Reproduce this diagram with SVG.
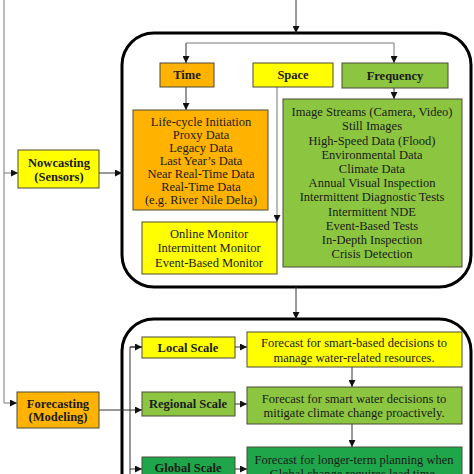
<svg xmlns="http://www.w3.org/2000/svg" width="474" height="474" viewBox="0 0 474 474">
<style>
text{font-family:"Liberation Serif","Times New Roman",serif;font-size:12.5px;fill:#1a1a1a;text-anchor:middle}
.b{font-weight:bold}
.n{stroke:#4a4a3a;stroke-width:1}
.or{fill:#FFB300}
.ye{fill:#FFFF00}
.lg{fill:#8CC640}
.dg{fill:#1FA64A}
.c{fill:none;stroke:#333;stroke-width:1}
.g{fill:none;stroke:#777;stroke-width:1}
.big{fill:none;stroke:#000;stroke-width:3}
</style>
<defs>
<marker id="a" viewBox="0 0 10 10" refX="10" refY="5" markerWidth="7" markerHeight="7" markerUnits="userSpaceOnUse" orient="auto"><path d="M0,0L10,5L0,10z" fill="#111"/></marker>
</defs>
<rect width="474" height="474" fill="#fff"/>
<g id="container1"><rect class="big" x="122" y="33" width="349" height="254" rx="32"/></g>
<g id="container2"><rect class="big" x="122" y="319" width="349" height="220" rx="32"/></g>
<g id="connectors">
<path class="c" d="M296,0V33" marker-end="url(#a)"/>
<path class="g" d="M4,0V403H17" marker-end="url(#a)"/>
<path class="g" d="M4,173H18" marker-end="url(#a)"/>
<path class="c" d="M99,173H122" marker-end="url(#a)"/>
<path class="g" d="M186,63V43H394V63" marker-end="url(#a)"/>
<path class="g" d="M186,43V63" marker-end="url(#a)"/>
<path class="c" d="M186,87V110" marker-end="url(#a)"/>
<path class="c" d="M394,88V99" marker-end="url(#a)"/>
<path class="g" d="M277,87V222" marker-end="url(#a)"/>
<path class="c" d="M296,287V319" marker-end="url(#a)"/>
<path class="c" d="M99,410H142" marker-end="url(#a)"/>
<path class="c" d="M142,347H130V480" />
<path class="c" d="M130,347H142" marker-end="url(#a)"/>
<path class="c" d="M130,469H142" marker-end="url(#a)"/>
<path class="c" d="M235,347H247" marker-end="url(#a)"/>
<path class="c" d="M235,404H247" marker-end="url(#a)"/>
<path class="c" d="M235,469H247" marker-end="url(#a)"/>
<path class="c" d="M352,367V387" marker-end="url(#a)"/>
<path class="c" d="M352,424V447" marker-end="url(#a)"/>
</g>
<g id="nowcasting"><rect class="n ye" x="18" y="150" width="81" height="38"/><text class="b" x="59" y="167">Nowcasting</text><text class="b" x="59" y="181">(Sensors)</text></g>
<g id="forecasting"><rect class="n or" x="17" y="392" width="82" height="36"/><text class="b" x="58" y="408">Forecasting</text><text class="b" x="58" y="421">(Modeling)</text></g>
<g id="time"><rect class="n or" x="160" y="63" width="54" height="24"/><text class="b" x="187" y="79">Time</text></g>
<g id="space"><rect class="n ye" x="253" y="63" width="80" height="24"/><text class="b" x="293" y="79">Space</text></g>
<g id="frequency"><rect class="n lg" x="342" y="63" width="106" height="25"/><text class="b" x="395" y="80">Frequency</text></g>
<g id="timedata"><rect class="n or" x="133" y="110" width="135" height="100"/>
<text x="201" y="126">Life-cycle Initiation</text><text x="201" y="139">Proxy Data</text><text x="201" y="152">Legacy Data</text><text x="201" y="165">Last Year’s Data</text><text x="201" y="178">Near Real-Time Data</text><text x="201" y="191">Real-Time Data</text><text x="201" y="204">(e.g. River Nile Delta)</text></g>
<g id="monitor"><rect class="n ye" x="142" y="222" width="135" height="52"/>
<text x="209" y="238">Online Monitor</text><text x="209" y="252">Intermittent Monitor</text><text x="209" y="267">Event-Based Monitor</text></g>
<g id="freqdata"><rect class="n lg" x="283" y="99" width="179" height="168"/>
<text x="372" y="116">Image Streams (Camera, Video)</text><text x="372" y="130">Still Images</text><text x="372" y="145">High-Speed Data (Flood)</text><text x="372" y="159">Environmental Data</text><text x="372" y="173">Climate Data</text><text x="372" y="187">Annual Visual Inspection</text><text x="372" y="201">Intermittent Diagnostic Tests</text><text x="372" y="216">Intermittent NDE</text><text x="372" y="230">Event-Based Tests</text><text x="372" y="244">In-Depth Inspection</text><text x="372" y="258">Crisis Detection</text></g>
<g id="local"><rect class="n ye" x="142" y="337" width="93" height="21"/><text class="b" x="188" y="352">Local Scale</text></g>
<g id="regional"><rect class="n lg" x="142" y="392" width="93" height="24"/><text class="b" x="188" y="408">Regional Scale</text></g>
<g id="global"><rect class="n dg" x="142" y="457" width="93" height="30"/><text class="b" x="188" y="472">Global Scale</text></g>
<g id="localf"><rect class="n ye" x="247" y="332" width="215" height="35"/><text x="354" y="347">Forecast for smart-based decisions to</text><text x="354" y="362">manage water-related resources.</text></g>
<g id="regionalf"><rect class="n lg" x="247" y="387" width="215" height="37"/><text x="354" y="403">Forecast for smart water decisions to</text><text x="354" y="417">mitigate climate change proactively.</text></g>
<g id="globalf"><rect class="n dg" x="247" y="447" width="215" height="40"/><text x="354" y="464">Forecast for longer-term planning when</text><text x="354" y="478">Global change requires lead time.</text></g>
</svg>
